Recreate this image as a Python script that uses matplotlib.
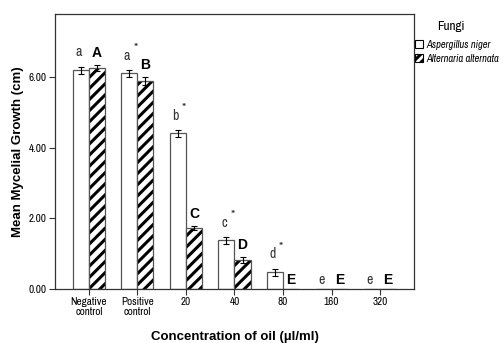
import matplotlib
matplotlib.use("Agg")
import matplotlib.pyplot as plt
import numpy as np
from matplotlib.patches import Patch

NARROW = ['Archivo Narrow', 'Roboto Condensed', 'Liberation Sans', 'DejaVu Sans']
BOLD = ['Liberation Sans', 'DejaVu Sans']
plt.rcParams['font.family'] = NARROW
plt.rcParams['hatch.linewidth'] = 2.2

categories = ['Negative\ncontrol', 'Positive\ncontrol', '20', '40', '80', '160', '320']
niger = [6.21, 6.12, 4.42, 1.38, 0.48, 0.0, 0.0]
niger_err = [0.1, 0.1, 0.1, 0.1, 0.1, 0.0, 0.0]
alternaria = [6.26, 5.90, 1.72, 0.82, 0.0, 0.0, 0.0]
alternaria_err = [0.08, 0.1, 0.06, 0.08, 0.0, 0.0, 0.0]
niger_letters = ['a', 'a', 'b', 'c', 'd', 'e', 'e']
niger_star = [False, True, True, True, True, False, False]
alt_letters = ['A', 'B', 'C', 'D', 'E', 'E', 'E']
yticks = [0, 2, 4, 6]

fig = plt.figure(figsize=(5.03, 3.43), dpi=100)
ax = fig.add_axes([55/503, 1-289/343, (414-55)/503, (289-14)/343])

x = np.arange(len(categories))
w = 0.33
edge = '#555555'
ax.bar(x - w/2, niger, w, facecolor='white', edgecolor=edge, linewidth=0.9, zorder=2)
ax.bar(x + w/2, alternaria, w, facecolor='white', edgecolor='black', hatch='///', linewidth=0, zorder=2)
ax.bar(x + w/2, alternaria, w, facecolor='none', edgecolor=edge, linewidth=0.9, zorder=3)
for xs, v, e in ((x - w/2, niger, niger_err), (x + w/2, alternaria, alternaria_err)):
    m = np.array(e) > 0
    ax.errorbar(xs[m], np.array(v)[m], yerr=np.array(e)[m], fmt='none', ecolor='black',
                elinewidth=0.8, capsize=2.5, capthick=0.8, zorder=4)

for i in range(len(categories)):
    top = niger[i] + niger_err[i]
    y = top + 0.2 if niger[i] > 0 else 0.05
    ax.text(x[i] - w/2 - 0.05, y, niger_letters[i], ha='center', va='bottom',
            fontsize=10, color='#333333')
    if niger_star[i]:
        ax.annotate('*', (x[i] - w/2 - 0.05, y), xytext=(6, 6), textcoords='offset points',
                    ha='center', va='bottom', fontsize=9.5, color='#333333')
    top = alternaria[i] + alternaria_err[i]
    y = top + 0.15 if alternaria[i] > 0 else 0.05
    ax.text(x[i] + w/2, y, alt_letters[i], ha='center', va='bottom',
            fontsize=10, fontweight='bold', family=BOLD)

ax.set_xlim(-0.7, 6.7)
ax.set_ylim(0, 7.8)
ax.set_xticks(x)
ax.set_xticklabels(categories, fontsize=8, linespacing=1.0)
ax.set_yticks(yticks)
ax.set_yticklabels(['%.2f' % t for t in yticks], fontsize=8)
ax.tick_params(axis='both', direction='out', length=4, width=0.8, color='#333333', pad=2)
for s in ax.spines.values():
    s.set_color('#333333')
    s.set_linewidth(0.9)

ax.set_ylabel('Mean Mycelial Growth (cm)', fontsize=9.5, fontweight='bold',
              family=BOLD, labelpad=3)
ax.set_xlabel('Concentration of oil (\u00b5l/ml)', fontsize=9.5, fontweight='bold',
              family=BOLD, labelpad=10)

fig.text(451/503, 1-27/343, 'Fungi', ha='center', va='center', fontsize=9.5)
handles = [Patch(facecolor='white', edgecolor='black', linewidth=0.8),
           Patch(facecolor='white', edgecolor='black', hatch='////', linewidth=0.8)]
fig.legend(handles, ['Aspergillus niger', 'Alternaria alternata'], loc='upper left',
           bbox_to_anchor=(415/503, 1-40/343), frameon=False,
           handlelength=0.8, handleheight=0.8, handletextpad=0.25, labelspacing=0.35,
           borderaxespad=0, borderpad=0, prop={'style': 'italic', 'size': 7.6})

fig.savefig('out.png', dpi=100)
